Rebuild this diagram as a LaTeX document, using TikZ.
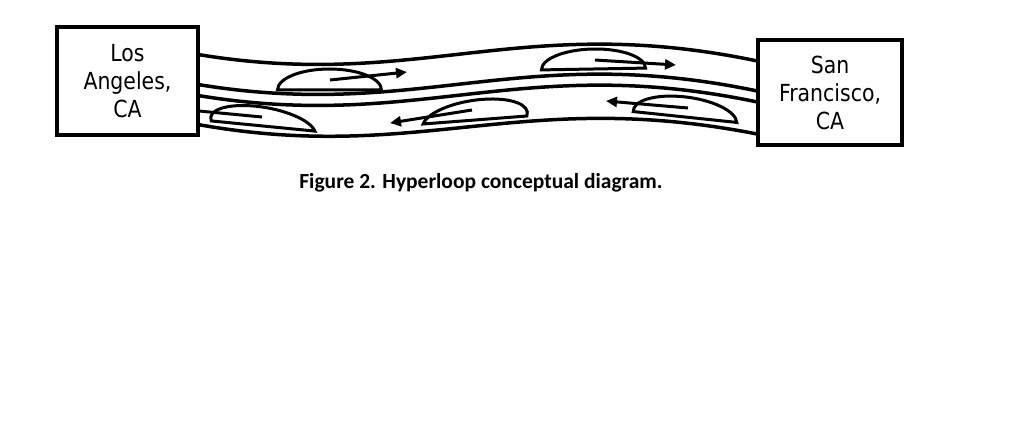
\documentclass[tikz,border=0pt]{standalone}
\usepackage{fontspec}
\setmainfont{DejaVu Sans}[FakeStretch=0.87]
\newfontfamily\capfont{Carlito}
\usetikzlibrary{arrows.meta}

\begin{document}
\begin{tikzpicture}[x=1pt, y=-1pt,
    city/.style={draw, line width=4pt, fill=white, align=center,
                 inner sep=0pt, font=\fontsize{23.5}{28}\selectfont},
    tube/.style={line width=3.5pt},
    pod/.style={line width=3pt, fill=white},
    move/.style={line width=3pt, -{Triangle[length=11pt, width=10pt]}}]
  \useasboundingbox (0,0) rectangle (1015,444);
  % tube walls
  \foreach \ya/\yb/\yc/\yd in {54/92/10/62, 84/122/40/92, 95/133/51/103, 124/165/86/135}
    \draw[tube] (195,\ya) .. controls (420,\yb) and (520,\yc) .. (762,\yd);
  % pods
  \foreach \px/\py/\a/\s/\h in {329.5/90/0/0/21, 593.5/69/1/0/20, 263/126/-5.6/-0.5/19,
                                475/120/4.4/0.45/20, 685/117/-6/-0.15/20}
    \draw[pod, shift={(\px,\py)}, rotate=\a, xslant=\s] (-52,0)
      arc[start angle=180, end angle=360, x radius=52, y radius=\h] -- cycle;
  % direction of travel
  \foreach \i/\sx/\sy/\ex/\ey in {1/330/80/407/72, 2/595/60/676/65,
                                  3/262/117/178/109, 4/472/110/390/123,
                                  5/688/108/606/101} {
    \coordinate (s\i) at (\sx,\sy);
    \coordinate (e\i) at (\ex,\ey);
    \draw[move] (s\i) -- (e\i);
  }
  \node[city, minimum width=141pt, minimum height=108pt] (la) at (127.5,81) {Los\\Angeles,\\CA};
  \node[city, minimum width=144pt, minimum height=105pt] (sf) at (830,92.5) {San\\Francisco,\\CA};
  \node[font=\capfont\bfseries\fontsize{21.5}{26}\selectfont] (cap) at (481,183) {Figure 2. Hyperloop conceptual diagram.};
\end{tikzpicture}
\end{document}
